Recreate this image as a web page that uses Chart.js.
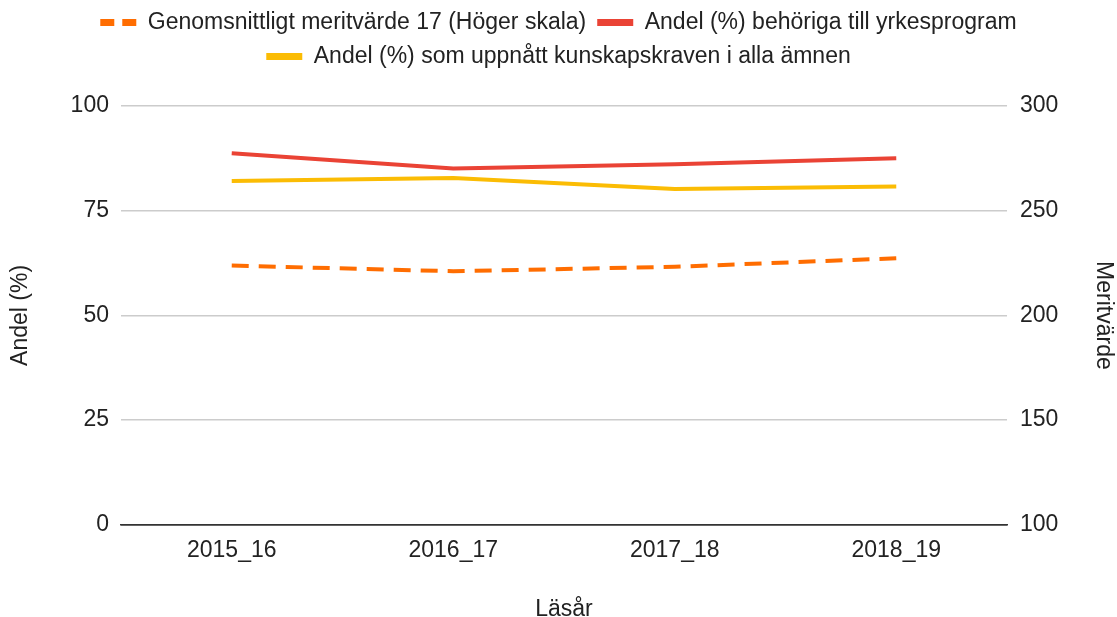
<!DOCTYPE html>
<html>
<head>
<meta charset="utf-8">
<script src="https://cdn.jsdelivr.net/npm/chart.js@4"></script>
<style>
  html, body { margin: 0; padding: 0; background: #fff; }
  #wrap { width: 1117px; height: 617px; }
</style>
</head>
<body>
<div id="wrap"><canvas id="chart1"></canvas></div>
<script>
const years = ['2015_16', '2016_17', '2017_18', '2018_19'];
const meritValues = [223.8, 221.1, 223.2, 227.3];
const behorigaValues = [88.7, 85.1, 86.1, 87.5];
const kunskapsValues = [82.1, 82.8, 80.2, 80.8];
const leftTicks = [0, 25, 50, 75, 100];
const rightTicks = [100, 150, 200, 250, 300];

Chart.defaults.font.family = 'Arial, "Liberation Sans", sans-serif';
Chart.defaults.font.size = 23;
Chart.defaults.color = '#222';

// give the legend some extra room below it
const legendGap = {
    id: 'legendGap',
    beforeInit(chart) {
        const fit = chart.legend.fit;
        chart.legend.fit = function() {
            fit.bind(chart.legend)();
            this.height += 28;
        };
    }
};

const ctx = document.getElementById('chart1').getContext('2d');
const chart1 = new Chart(ctx, {
    type: 'line',
    data: {
        labels: years,
        datasets: [{
            label: 'Genomsnittligt meritvärde 17 (Höger skala)',
            data: meritValues,
            yAxisID: 'y1',
            borderColor: '#ff6d01',
            backgroundColor: '#ff6d01',
            borderWidth: 4,
            borderDash: [17, 10],
            pointRadius: 0,
            tension: 0
        }, {
            label: 'Andel (%) behöriga till yrkesprogram',
            data: behorigaValues,
            yAxisID: 'y',
            borderColor: '#ea4335',
            backgroundColor: '#ea4335',
            borderWidth: 4,
            pointRadius: 0,
            tension: 0
        }, {
            label: 'Andel (%) som uppnått kunskapskraven i alla ämnen',
            data: kunskapsValues,
            yAxisID: 'y',
            borderColor: '#fbbc04',
            backgroundColor: '#fbbc04',
            borderWidth: 4,
            pointRadius: 0,
            tension: 0
        }]
    },
    options: {
        responsive: true,
        maintainAspectRatio: false,
        animation: false,
        layout: { padding: { left: 0, right: 0, top: 0, bottom: 0 } },
        plugins: {
            legend: {
                position: 'top',
                labels: {
                    usePointStyle: true,
                    pointStyle: 'line',
                    pointStyleWidth: 36,
                    boxHeight: 23,
                    padding: 11,
                    color: '#222',
                    font: { size: 23 },
                    generateLabels: chart => {
                        const items = Chart.defaults.plugins.legend.labels.generateLabels(chart);
                        items.forEach((it, i) => {
                            it.lineWidth = 7;
                            it.lineCap = 'butt';
                            it.lineDash = i === 0 ? [14, 8] : [];
                        });
                        return items;
                    }
                }
            },
            tooltip: { enabled: false }
        },
        scales: {
            x: {
                offset: true,
                grid: { display: false, drawTicks: false },
                border: { color: '#333', width: 1.5 },
                ticks: { padding: 12, color: '#222' },
                title: { display: true, text: 'Läsår', color: '#222', padding: { top: 19, bottom: -6 } }
            },
            y: {
                position: 'left',
                min: 0,
                max: 100,
                afterBuildTicks: axis => { axis.ticks = leftTicks.map(v => ({ value: v })); },
                grid: {
                    color: ctx => ctx.tick.value === 0 ? '#333' : '#ccc',
                    lineWidth: 1.5,
                    drawTicks: false
                },
                border: { display: false },
                ticks: { padding: 12, color: '#222' },
                title: { display: true, text: 'Andel (%)', color: '#222', padding: { top: 7, bottom: 24 } }
            },
            y1: {
                position: 'right',
                min: 100,
                max: 300,
                afterBuildTicks: axis => { axis.ticks = rightTicks.map(v => ({ value: v })); },
                grid: { display: false, drawTicks: false },
                border: { display: false },
                ticks: { padding: 13, color: '#222' },
                title: { display: true, text: 'Meritvärde', color: '#222', padding: { top: 0, bottom: 18 } }
            }
        }
    },
    plugins: [legendGap]
});
</script>
</body>
</html>
